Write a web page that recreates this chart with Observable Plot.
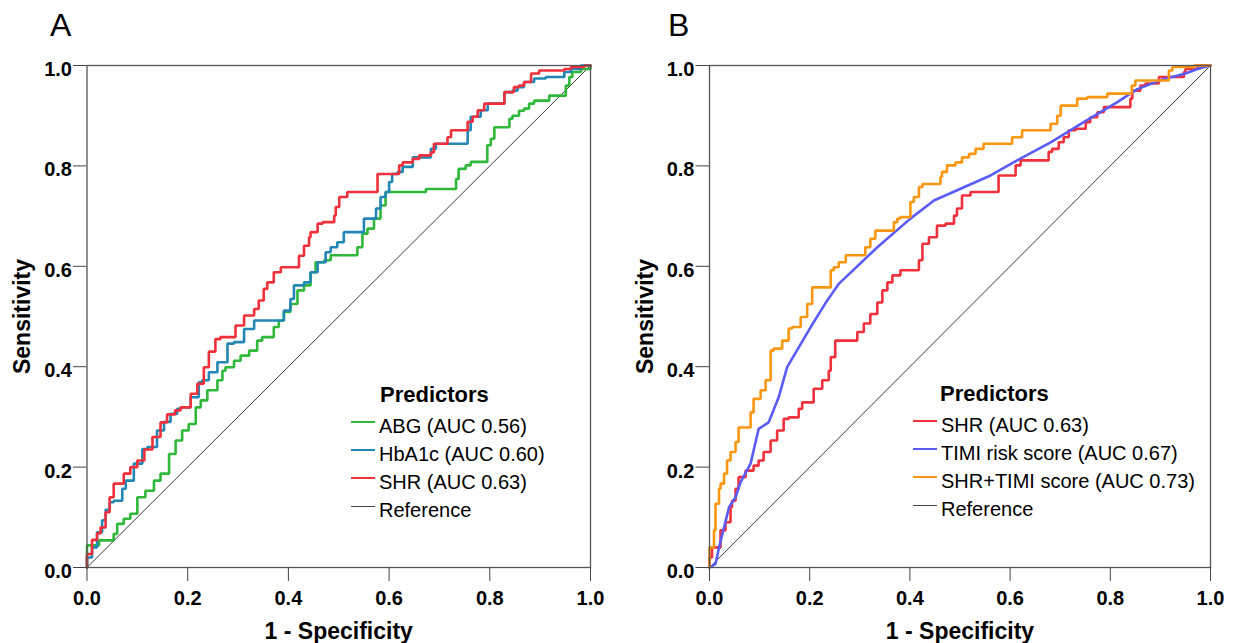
<!DOCTYPE html>
<html>
<head>
<meta charset="utf-8">
<script src="https://cdn.jsdelivr.net/npm/d3@7"></script>
<script src="https://cdn.jsdelivr.net/npm/@observablehq/plot@0.6"></script>
<style>
  html, body { margin: 0; padding: 0; background: #fff; }
  #wrap { position: relative; width: 1233px; height: 643px; font-family: "Liberation Sans", Arial, sans-serif; color: #000; }
  .panel { position: absolute; top: 0; }
  .panel svg text { font-weight: bold; }
  .panel svg [aria-label="x-axis tick label"], .panel svg [aria-label="y-axis tick label"] { font-size: 20px; }
  .panel svg [aria-label="x-axis label"], .panel svg [aria-label="y-axis label"] { font-size: 23px; }
  .letter { position: absolute; font-size: 32px; line-height: 32px; font-weight: normal; }
  .legend { position: absolute; }
  .legend .title { font-size: 22px; font-weight: bold; height: 31px; line-height: 28px; }
  .legend .row { display: flex; align-items: center; height: 28px; line-height: 28px; font-size: 20px; }
  .legend .sw { width: 24px; margin-right: 4px; transform: translateY(-4px); }
</style>
</head>
<body>
<div id="wrap">
  <div id="pa" class="panel" style="left:0px"></div>
  <div id="pb" class="panel" style="left:616px"></div>
  <div class="letter" style="left:50px;top:9px">A</div>
  <div class="letter" style="left:668px;top:9px">B</div>
  <div id="legA" class="legend" style="left:351px;top:381px"></div>
  <div id="legB" class="legend" style="left:913px;top:380px"></div>
</div>
<script>
// ---- data: ROC vertices [1 - specificity, sensitivity] ----
const axisTicks = [0, 0.2, 0.4, 0.6, 0.8, 1.0];
const referenceLine = [[0, 0], [1, 1]];

const aABG = [[0,0],[0,.028],[.01,.044],[.024,.044],[.03,.054],[.053,.054],[.06,.067],[.073,.087],[.086,.097],[.1,.107],[.116,.14],[.133,.153],[.146,.173],[.163,.187],[.176,.226],[.189,.253],[.202,.273],[.216,.286],[.226,.319],[.239,.333],[.259,.353],[.269,.373],[.275,.392],[.292,.399],[.305,.412],[.322,.422],[.338,.432],[.348,.452],[.371,.459],[.381,.479],[.391,.492],[.404,.509],[.418,.525],[.431,.552],[.444,.562],[.454,.588],[.471,.608],[.484,.612],[.497,.622],[.537,.622],[.547,.638],[.557,.665],[.57,.675],[.583,.695],[.593,.721],[.61,.748],[.673,.748],[.676,.754],[.733,.754],[.738,.774],[.752,.794],[.762,.801],[.786,.808],[.795,.808],[.802,.841],[.809,.854],[.819,.877],[.839,.877],[.845,.894],[.858,.9],[.868,.91],[.878,.914],[.888,.924],[.901,.93],[.918,.93],[.925,.94],[.951,.94],[.958,.96],[.964,.977],[.981,.987],[1,.993],[1,1]];

const aHbA1c = [[0,0],[.01,.02],[.02,.04],[.03,.07],[.037,.094],[.045,.115],[.053,.13],[.07,.133],[.077,.157],[.093,.173],[.11,.207],[.12,.236],[.139,.24],[.153,.273],[.166,.29],[.179,.306],[.186,.316],[.206,.319],[.222,.339],[.229,.369],[.242,.373],[.259,.389],[.279,.409],[.292,.446],[.312,.449],[.322,.475],[.332,.475],[.345,.492],[.391,.492],[.404,.512],[.411,.535],[.431,.562],[.444,.568],[.458,.588],[.474,.608],[.484,.628],[.497,.638],[.51,.648],[.523,.668],[.55,.668],[.563,.695],[.574,.695],[.583,.715],[.593,.738],[.6,.748],[.606,.768],[.617,.784],[.627,.788],[.647,.798],[.663,.817],[.683,.817],[.693,.834],[.709,.844],[.756,.844],[.762,.871],[.782,.898],[.796,.911],[.809,.924],[.829,.924],[.845,.947],[.855,.95],[.868,.957],[.888,.967],[.911,.974],[.948,.977],[.961,.987],[.981,.993],[1,1]];

const aSHR = [[0,0],[.01,.027],[.02,.055],[.027,.068],[.037,.08],[.045,.11],[.053,.14],[.073,.167],[.086,.187],[.1,.2],[.114,.213],[.13,.235],[.146,.26],[.159,.289],[.175,.305],[.186,.313],[.206,.319],[.219,.346],[.232,.366],[.242,.399],[.255,.43],[.265,.455],[.295,.459],[.312,.482],[.332,.502],[.341,.515],[.351,.532],[.358,.555],[.371,.568],[.385,.588],[.395,.598],[.421,.598],[.431,.621],[.441,.641],[.444,.658],[.458,.668],[.468,.685],[.491,.688],[.494,.701],[.501,.718],[.517,.738],[.53,.748],[.577,.748],[.587,.784],[.62,.784],[.627,.801],[.647,.807],[.66,.814],[.683,.821],[.689,.827],[.716,.844],[.723,.857],[.733,.871],[.756,.871],[.766,.888],[.776,.898],[.789,.911],[.809,.924],[.829,.924],[.848,.947],[.858,.957],[.868,.96],[.882,.967],[.898,.984],[.948,.99],[.961,.993],[.988,.997],[1,1]];

const bSHR = [[0,0],[.005,.02],[.012,.04],[.022,.04],[.032,.074],[.042,.09],[.045,.12],[.052,.133],[.058,.157],[.072,.18],[.088,.193],[.098,.203],[.108,.213],[.122,.23],[.135,.253],[.148,.273],[.158,.296],[.178,.299],[.185,.316],[.208,.329],[.225,.356],[.238,.373],[.242,.392],[.251,.419],[.268,.452],[.295,.452],[.308,.469],[.321,.486],[.335,.505],[.345,.528],[.355,.552],[.365,.568],[.381,.582],[.391,.592],[.418,.592],[.425,.612],[.438,.645],[.454,.658],[.471,.681],[.488,.685],[.494,.701],[.504,.715],[.521,.741],[.531,.748],[.577,.748],[.587,.781],[.611,.781],[.621,.801],[.627,.811],[.677,.811],[.684,.828],[.697,.834],[.707,.847],[.717,.857],[.731,.871],[.751,.874],[.76,.887],[.774,.897],[.787,.907],[.804,.917],[.84,.917],[.844,.934],[.86,.95],[.87,.96],[.897,.964],[.9,.977],[.947,.977],[.95,.987],[.974,.993],[1,1]];

const bTIMI = [[0,0],[.012,.007],[.019,.04],[.029,.08],[.039,.12],[.052,.14],[.062,.17],[.082,.207],[.098,.276],[.118,.289],[.138,.339],[.155,.399],[.182,.445],[.202,.479],[.235,.532],[.258,.565],[.335,.638],[.401,.695],[.448,.731],[.561,.781],[.614,.811],[.681,.847],[.747,.887],[.814,.927],[.854,.953],[.907,.973],[.947,.983],[.974,.993],[1,1]];

const bCombined = [[0,0],[.009,.04],[.012,.074],[.019,.127],[.022,.157],[.029,.167],[.035,.187],[.042,.213],[.052,.23],[.058,.25],[.068,.279],[.082,.279],[.088,.309],[.102,.336],[.112,.353],[.122,.373],[.128,.432],[.145,.436],[.158,.452],[.165,.476],[.182,.479],[.195,.499],[.205,.525],[.215,.558],[.242,.558],[.248,.592],[.258,.598],[.272,.608],[.285,.622],[.311,.622],[.321,.638],[.331,.655],[.345,.671],[.368,.671],[.375,.688],[.381,.695],[.401,.698],[.408,.728],[.418,.738],[.425,.758],[.435,.764],[.461,.764],[.464,.778],[.474,.788],[.491,.801],[.504,.807],[.518,.817],[.531,.824],[.547,.834],[.567,.844],[.604,.844],[.624,.857],[.624,.871],[.681,.871],[.694,.884],[.701,.9],[.711,.92],[.734,.92],[.754,.934],[.794,.937],[.797,.944],[.843,.944],[.85,.96],[.87,.97],[.917,.97],[.924,.99],[.967,.997],[1,1]];

const legendA = [
  {label: "ABG (AUC 0.56)", color: "#2fb83a", w: 2.5},
  {label: "HbA1c (AUC 0.60)", color: "#2387b5", w: 2.5},
  {label: "SHR (AUC 0.63)", color: "#f0313b", w: 2.5},
  {label: "Reference", color: "#444", w: 1}
];
const legendB = [
  {label: "SHR (AUC 0.63)", color: "#f0313b", w: 2.5},
  {label: "TIMI risk score (AUC 0.67)", color: "#5a5cf6", w: 2.5},
  {label: "SHR+TIMI score (AUC 0.73)", color: "#fb9610", w: 2.5},
  {label: "Reference", color: "#444", w: 1}
];

// ---- drawing ----
function panel(series, ml, mr, w) {
  return Plot.plot({
    width: w, height: 643,
    marginTop: 65, marginBottom: 76, marginLeft: ml, marginRight: mr,
    style: {fontFamily: "'Liberation Sans', Arial, sans-serif", fontSize: "20px", color: "#000", background: "transparent", overflow: "visible"},
    x: {domain: [0, 1]},
    y: {domain: [0, 1]},
    marks: [
      Plot.line(referenceLine, {x: d => d[0], y: d => d[1], stroke: "#3a3a3a", strokeWidth: 1}),
      ...series.map(s => Plot.line(s.data, {x: d => d[0], y: d => d[1], stroke: s.color, strokeWidth: 2.6, curve: s.curve, strokeLinejoin: "miter"})),
      Plot.frame({stroke: "#555", strokeWidth: 1.3}),
      Plot.axisX({ticks: axisTicks, tickFormat: d3.format(".1f"), tickSize: 14, tickPadding: 9, stroke: "#444",
        label: "1 - Specificity", labelAnchor: "center", labelArrow: "none", labelOffset: 71}),
      Plot.axisY({ticks: axisTicks, tickFormat: () => "", tickSize: 13.5, stroke: "#444",
        label: "Sensitivity", labelAnchor: "center", labelArrow: "none", labelOffset: 73}),
      Plot.axisY({ticks: axisTicks, tickFormat: d3.format(".1f"), tickSize: 0, tickPadding: 15, dy: 4, label: null})
    ]
  });
}

document.getElementById("pa").append(panel([
  {data: aABG, color: legendA[0].color, curve: "step-before"},
  {data: aHbA1c, color: legendA[1].color, curve: "step-before"},
  {data: aSHR, color: legendA[2].color, curve: "step-before"}
], 86.5, 26, 616));

document.getElementById("pb").append(panel([
  {data: bSHR, color: legendB[0].color, curve: "step-before"},
  {data: bTIMI, color: legendB[1].color, curve: "linear"},
  {data: bCombined, color: legendB[2].color, curve: "step-before"}
], 93, 23, 617));

function legend(el, items, gap) {
  const t = document.createElement("div");
  t.className = "title"; t.textContent = "Predictors"; t.style.marginLeft = gap + "px";
  el.append(t);
  for (const it of items) {
    const r = document.createElement("div"); r.className = "row";
    const sw = document.createElement("div"); sw.className = "sw";
    sw.style.height = it.w + "px"; sw.style.background = it.color;
    const tx = document.createElement("span"); tx.textContent = it.label;
    r.append(sw, tx); el.append(r);
  }
}
legend(document.getElementById("legA"), legendA, 29);
legend(document.getElementById("legB"), legendB, 27);
</script>
</body>
</html>
